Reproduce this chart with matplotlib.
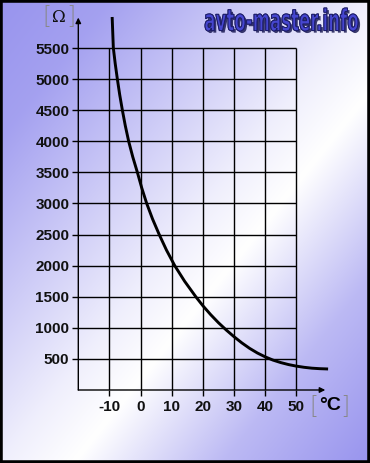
import numpy as np
import matplotlib.pyplot as plt
import matplotlib.patheffects as pe
from matplotlib.patches import Rectangle, PathPatch
from matplotlib.textpath import TextPath
from matplotlib.font_manager import FontProperties
from matplotlib.transforms import Affine2D

# Кривая сопротивления датчика температуры
temps = [-9.13, -8.75, -8.15, -7.46, -6.71, -5.85, -4.91, -3.83, -2.52, -1.03, 0.37, 1.96, 3.84,
         5.98, 8.31, 10.96, 14.12, 17.72, 20, 22.5, 25, 27.5, 30, 32.5, 35, 37.5, 40, 42.5,
         45, 47.5, 50, 52.5, 55, 57.5, 60.2]
res = [5999, 5500, 5250, 5000, 4750, 4500, 4250, 4000, 3750, 3500, 3250, 3000, 2750,
       2500, 2250, 2000, 1750, 1500, 1355, 1212, 1082, 965, 857, 758, 670, 595, 533, 481,
       441, 409, 384, 365, 351, 343, 338]

x_ticks = [-10, 0, 10, 20, 30, 40, 50]
x_labels = ['-10', '0', '10', '20', '30', '40', '50']
y_ticks = [500, 1000, 1500, 2000, 2500, 3000, 3500, 4000, 4500, 5000, 5500]

W, H = 370, 463
fig = plt.figure(figsize=(W / 100, H / 100), dpi=100)

# фон: диагональный градиент фиолетовый -> белый -> фиолетовый
bg = fig.add_axes([0, 0, 1, 1], zorder=-5)
gx, gy = np.meshgrid(np.linspace(0, 1, W), np.linspace(0, 1, H))
t = (gx + gy) / 2
w = np.interp(t, [0, 0.15, 0.5, 0.6, 0.8, 1], [0, 0.12, 0.85, 1, 0.35, 0])
purple = np.array([152, 148, 238]) / 255
img = purple[None, None, :] * (1 - w[..., None]) + w[..., None]
bg.imshow(img, aspect='auto', extent=[0, 1, 0, 1])
bg.axis('off')
fig.patches.append(Rectangle((0, 0), 1, 1, transform=fig.transFigure,
                             fill=False, ec='black', lw=4, zorder=10))

ax = fig.add_axes([78.3 / W, 73 / H, 255.4 / W, 385.5 / H])
ax.patch.set_alpha(0)
ax.set_xlim(-20, 62)
ax.set_ylim(0, 6200)
for s in ax.spines.values():
    s.set_visible(False)

# сетка
ax.hlines(y_ticks, -20, 50, color='black', lw=1.0)
ax.vlines(x_ticks, 0, 5500, color='black', lw=1.0)

# оси со стрелками
ax.annotate('', xy=(-20, 5990), xytext=(-20, 0),
            arrowprops=dict(arrowstyle='-|>', lw=1.0, color='black', mutation_scale=8, shrinkA=0, shrinkB=0),
            annotation_clip=False)
ax.annotate('', xy=(59.3, 0), xytext=(-20, 0),
            arrowprops=dict(arrowstyle='-|>', lw=1.0, color='black', mutation_scale=8, shrinkA=0, shrinkB=0),
            annotation_clip=False)

ax.plot(temps, res, color='black', lw=2.1, solid_capstyle='butt', solid_joinstyle='round',
        clip_on=False, zorder=5)

ax.set_xticks(x_ticks)
ax.set_xticklabels(x_labels)
ax.set_yticks(y_ticks)
ax.tick_params(axis='both', length=4, width=1.0, color='black',
               labelsize=11, labelcolor='#111111')
ax.tick_params(axis='x', pad=3)
ax.tick_params(axis='y', pad=2.5)
for lb in ax.get_xticklabels() + ax.get_yticklabels():
    lb.set_fontfamily('Liberation Sans')
    lb.set_fontweight('bold')

# единицы измерения
fig.text(58.5 / W, 1 - 18 / H, 'Ω', family='DejaVu Serif', fontsize=12, ha='center', va='center', color='#111111')
fig.text(46.5 / W, 1 - 17 / H, '[', family='DejaVu Sans', fontsize=17, ha='center', va='center', color='#888888', weight='light')
fig.text(71 / W, 1 - 17 / H, ']', family='DejaVu Sans', fontsize=17, ha='center', va='center', color='#888888', weight='light')
fig.text(330 / W, 1 - 406 / H, '°C', family='Liberation Sans', fontsize=14, weight='bold', ha='center', va='center', color='black')
fig.text(314 / W, 1 - 407 / H, '[', family='DejaVu Sans', fontsize=17, ha='center', va='center', color='#888888', weight='light')
fig.text(345 / W, 1 - 407 / H, ']', family='DejaVu Sans', fontsize=17, ha='center', va='center', color='#888888', weight='light')

# водяной знак сайта: контур текста, растянутый в прямоугольник 205..358 x 8..32 px
tp = TextPath((0, 0), 'avto-master.info', size=1, prop=FontProperties(family='DejaVu Sans', weight='bold'))
ext = tp.get_extents()
sx = 153 / ext.width / W
sy = 23 / ext.height / H
tr = Affine2D().translate(-ext.x0, -ext.y0).scale(sx, sy).translate(205 / W, 1 - 31 / H) + fig.transFigure
logo = PathPatch(tp, transform=tr, fc='#4646d0', ec='#1c1c66', lw=0.7, zorder=6,
                 path_effects=[pe.withSimplePatchShadow(offset=(1.5, -1.5), shadow_rgbFace='#10104a', alpha=0.8),
                               pe.Normal()])
fig.patches.append(logo)

fig.savefig('out.png', dpi=100)
